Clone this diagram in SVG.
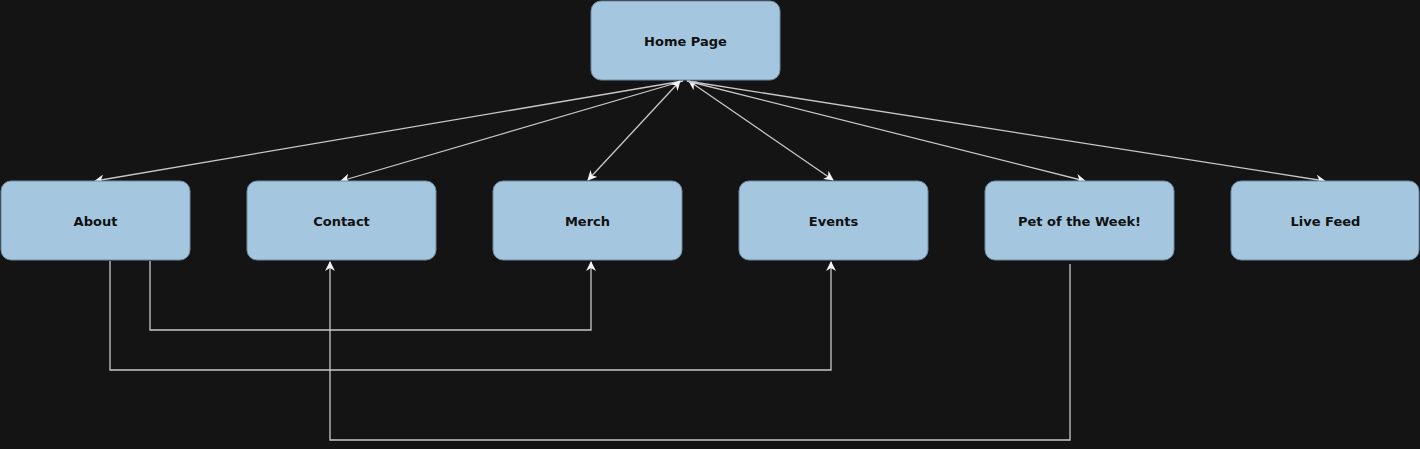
<svg xmlns="http://www.w3.org/2000/svg" width="1420" height="449" viewBox="0 0 1420 449">
<defs>
<style>
.node rect{fill:#a5c6df;stroke:#6f8aa0;stroke-width:1}
.node text{font-family:"DejaVu Sans",sans-serif;font-weight:bold;font-size:13px;fill:#111;text-anchor:middle;dominant-baseline:central}
.edge{fill:none;stroke:#c8c8c8;stroke-width:1.3}
</style>
<marker id="ah" viewBox="0 0 10 10" refX="9" refY="5" markerWidth="10" markerHeight="10" markerUnits="userSpaceOnUse" orient="auto-start-reverse">
<path d="M0,0 L10,5 L0,10 L3,5 z" fill="#f4f4f4"/>
</marker>
</defs>
<rect width="1420" height="449" fill="#141414"/>
<g id="connectors">
<path class="edge" d="M683,81 L95,181" marker-end="url(#ah)"/>
<path class="edge" d="M683,81 L341,181" marker-end="url(#ah)"/>
<path class="edge" d="M680,81 L588,180" marker-start="url(#ah)" marker-end="url(#ah)"/>
<path class="edge" d="M689,81 L833,180" marker-start="url(#ah)" marker-end="url(#ah)"/>
<path class="edge" d="M687,81 L1085,181" marker-end="url(#ah)"/>
<path class="edge" d="M687,81 L1325,181" marker-end="url(#ah)"/>
<path class="edge" d="M150,261 V330 H591 V262" marker-end="url(#ah)"/>
<path class="edge" d="M110,261 V370 H831 V262" marker-end="url(#ah)"/>
<path class="edge" d="M1070,264 V440 H330 V262" marker-end="url(#ah)"/>
</g>
<g id="home" class="node"><rect x="591" y="1" width="189" height="79" rx="10"/><text x="685.5" y="41">Home Page</text></g>
<g id="about" class="node"><rect x="1" y="181" width="189" height="79" rx="10"/><text x="95.5" y="221">About</text></g>
<g id="contact" class="node"><rect x="247" y="181" width="189" height="79" rx="10"/><text x="341.5" y="221">Contact</text></g>
<g id="merch" class="node"><rect x="493" y="181" width="189" height="79" rx="10"/><text x="587.5" y="221">Merch</text></g>
<g id="events" class="node"><rect x="739" y="181" width="189" height="79" rx="10"/><text x="833.5" y="221">Events</text></g>
<g id="pet" class="node"><rect x="985" y="181" width="189" height="79" rx="10"/><text x="1079.5" y="221">Pet of the Week!</text></g>
<g id="live" class="node"><rect x="1231" y="181" width="188" height="79" rx="10"/><text x="1325.5" y="221">Live Feed</text></g>
</svg>
